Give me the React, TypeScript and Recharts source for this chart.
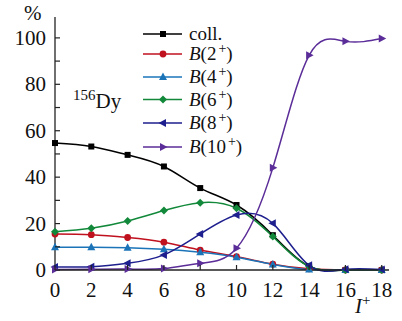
import { LineChart, Line, XAxis, YAxis } from 'recharts';

const spins = [0, 2, 4, 6, 8, 10, 12, 14, 16, 18];
const coll = [54.7, 53.2, 49.6, 44.6, 35.3, 28, 15, 1.5, 0, 0];
const b2 = [15.5, 15.2, 14, 12, 8.6, 5.8, 2.5, 0.5, 0, 0];
const b4 = [9.8, 9.8, 9.6, 8.9, 7.6, 5.5, 2.4, 0.2, 0, 0];
const b6 = [16.5, 18, 21.1, 25.6, 29, 26.6, 14.4, 1.5, 0, 0];
const b8 = [1.3, 1.4, 2.9, 6.5, 15.5, 23.7, 20.1, 2, 0.3, 0.2];
const b10 = [0.2, 0.3, 0.4, 0.6, 2.9, 9.4, 44, 92.5, 98.5, 99.7];
const yTicks = [0, 10, 20, 30, 40, 50, 60, 70, 80, 90, 100];

const data = spins.map((I, i) => ({
  I,
  coll: coll[i],
  b2: b2[i],
  b4: b4[i],
  b6: b6[i],
  b8: b8[i],
  b10: b10[i],
}));

const serif = { fontFamily: "'DejaVu Serif', 'Liberation Serif', serif" };
const times = { fontFamily: "'Liberation Serif', 'DejaVu Serif', serif" };

type Shape = 'square' | 'circle' | 'up' | 'diamond' | 'left' | 'right';

const series: { key: string; name: string; sup?: string; color: string; shape: Shape }[] = [
  { key: 'coll', name: 'coll.', color: '#000000', shape: 'square' },
  { key: 'b2', name: '2', sup: '+', color: '#c0111f', shape: 'circle' },
  { key: 'b4', name: '4', sup: '+', color: '#1b74b8', shape: 'up' },
  { key: 'b6', name: '6', sup: '+', color: '#12893a', shape: 'diamond' },
  { key: 'b8', name: '8', sup: '+', color: '#1e1f8e', shape: 'left' },
  { key: 'b10', name: '10', sup: '+', color: '#5b2d98', shape: 'right' },
];

function marker(shape: Shape, cx: number, cy: number, color: string, key?: string | number) {
  const s = 4;
  switch (shape) {
    case 'square':
      return <rect key={key} x={cx - 3} y={cy - 3} width={6} height={6} fill={color} />;
    case 'circle':
      return <circle key={key} cx={cx} cy={cy} r={3.4} fill={color} />;
    case 'up':
      return <polygon key={key} points={`${cx},${cy - s - 0.5} ${cx + s},${cy + s - 1} ${cx - s},${cy + s - 1}`} fill={color} />;
    case 'diamond':
      return <polygon key={key} points={`${cx},${cy - s} ${cx + s},${cy} ${cx},${cy + s} ${cx - s},${cy}`} fill={color} />;
    case 'left':
      return <polygon key={key} points={`${cx - s - 0.5},${cy} ${cx + s - 1},${cy - s} ${cx + s - 1},${cy + s}`} fill={color} />;
    case 'right':
      return <polygon key={key} points={`${cx + s + 0.5},${cy} ${cx - s + 1},${cy - s} ${cx - s + 1},${cy + s}`} fill={color} />;
  }
}

function XTick(props: any) {
  const { x, y, payload } = props;
  return (
    <g>
      <line x1={x} y1={y} x2={x} y2={y - 5} stroke="#222" strokeWidth={1.2} />
      <text x={x} y={y + 27} textAnchor="middle" style={times} fontSize={21} fill="#111">
        {payload.value}
      </text>
    </g>
  );
}

function YTick(props: any) {
  const { x, y, payload } = props;
  return (
    <g>
      <line x1={x} y1={y} x2={x + 5} y2={y} stroke="#222" strokeWidth={1.2} />
      {payload.value % 20 === 0 && (
        <text x={x - 9} y={y + 7} textAnchor="end" style={times} fontSize={21} fill="#111">
          {payload.value}
        </text>
      )}
    </g>
  );
}

const legendRows = [34, 54, 77, 99.5, 123, 147];

export default function App() {
  return (
    <div style={{ position: 'absolute', left: 0, top: 0, width: 402, height: 321 }}>
      <LineChart
        width={402}
        height={321}
        data={data}
        margin={{ top: 17, right: 13, bottom: 0, left: 0 }}
      >
        <XAxis
          dataKey="I"
          type="number"
          domain={[0, 18.4]}
          ticks={spins}
          height={51}
          tickSize={0}
          tickMargin={0}
          tickLine={false}
          tick={<XTick />}
          axisLine={{ stroke: '#222', strokeWidth: 1.3 }}
          interval={0}
        />
        <XAxis
          xAxisId="top"
          orientation="top"
          dataKey="I"
          type="number"
          domain={[0, 18.4]}
          height={0}
          tick={false}
          tickLine={false}
          axisLine={{ stroke: '#222', strokeWidth: 1.3 }}
        />
        <YAxis
          type="number"
          domain={[0, 109]}
          ticks={yTicks}
          width={55}
          tickSize={0}
          tickMargin={0}
          tickLine={false}
          tick={<YTick />}
          axisLine={{ stroke: '#222', strokeWidth: 1.3 }}
          interval={0}
        />
        <YAxis
          yAxisId="right"
          orientation="right"
          type="number"
          domain={[0, 109]}
          width={0}
          tick={false}
          tickLine={false}
          axisLine={{ stroke: '#222', strokeWidth: 1.3 }}
        />
        {series.map((s) => (
          <Line
            key={s.key}
            dataKey={s.key}
            type="natural"
            stroke={s.color}
            strokeWidth={1.5}
            isAnimationActive={false}
            dot={(p: any) => marker(s.shape, p.cx, p.cy, s.color, `${s.key}-${p.index}`)}
            activeDot={false}
          />
        ))}
      </LineChart>
      <svg
        width={402}
        height={321}
        style={{ position: 'absolute', left: 0, top: 0, pointerEvents: 'none' }}
      >
        <text x={24} y={20} style={times} fontSize={21} fill="#111">%</text>
        <text x={73} y={108} style={times} fontSize={21} fill="#111">
          <tspan fontSize={15} dy={-8}>156</tspan>
          <tspan dy={8}>Dy</tspan>
        </text>
        <text x={355} y={313} style={times} fontSize={21} fill="#111">
          <tspan fontStyle="italic">I</tspan>
          <tspan fontSize={15} dy={-8}>+</tspan>
        </text>
        {series.map((s, i) => {
          const y = legendRows[i];
          return (
            <g key={s.key}>
              <line x1={143} y1={y} x2={182} y2={y} stroke={s.color} strokeWidth={1.5} />
              {marker(s.shape, 163, y, s.color)}
              <text x={189} y={y + 6} style={times} fontSize={19} fill="#111">
                {s.sup ? (
                  <>
                    <tspan fontStyle="italic">B</tspan>
                    <tspan>({s.name}</tspan>
                    <tspan fontSize={14} dy={-7} dx={2}>{s.sup}</tspan>
                    <tspan dy={7}>)</tspan>
                  </>
                ) : (
                  s.name
                )}
              </text>
            </g>
          );
        })}
      </svg>
    </div>
  );
}
